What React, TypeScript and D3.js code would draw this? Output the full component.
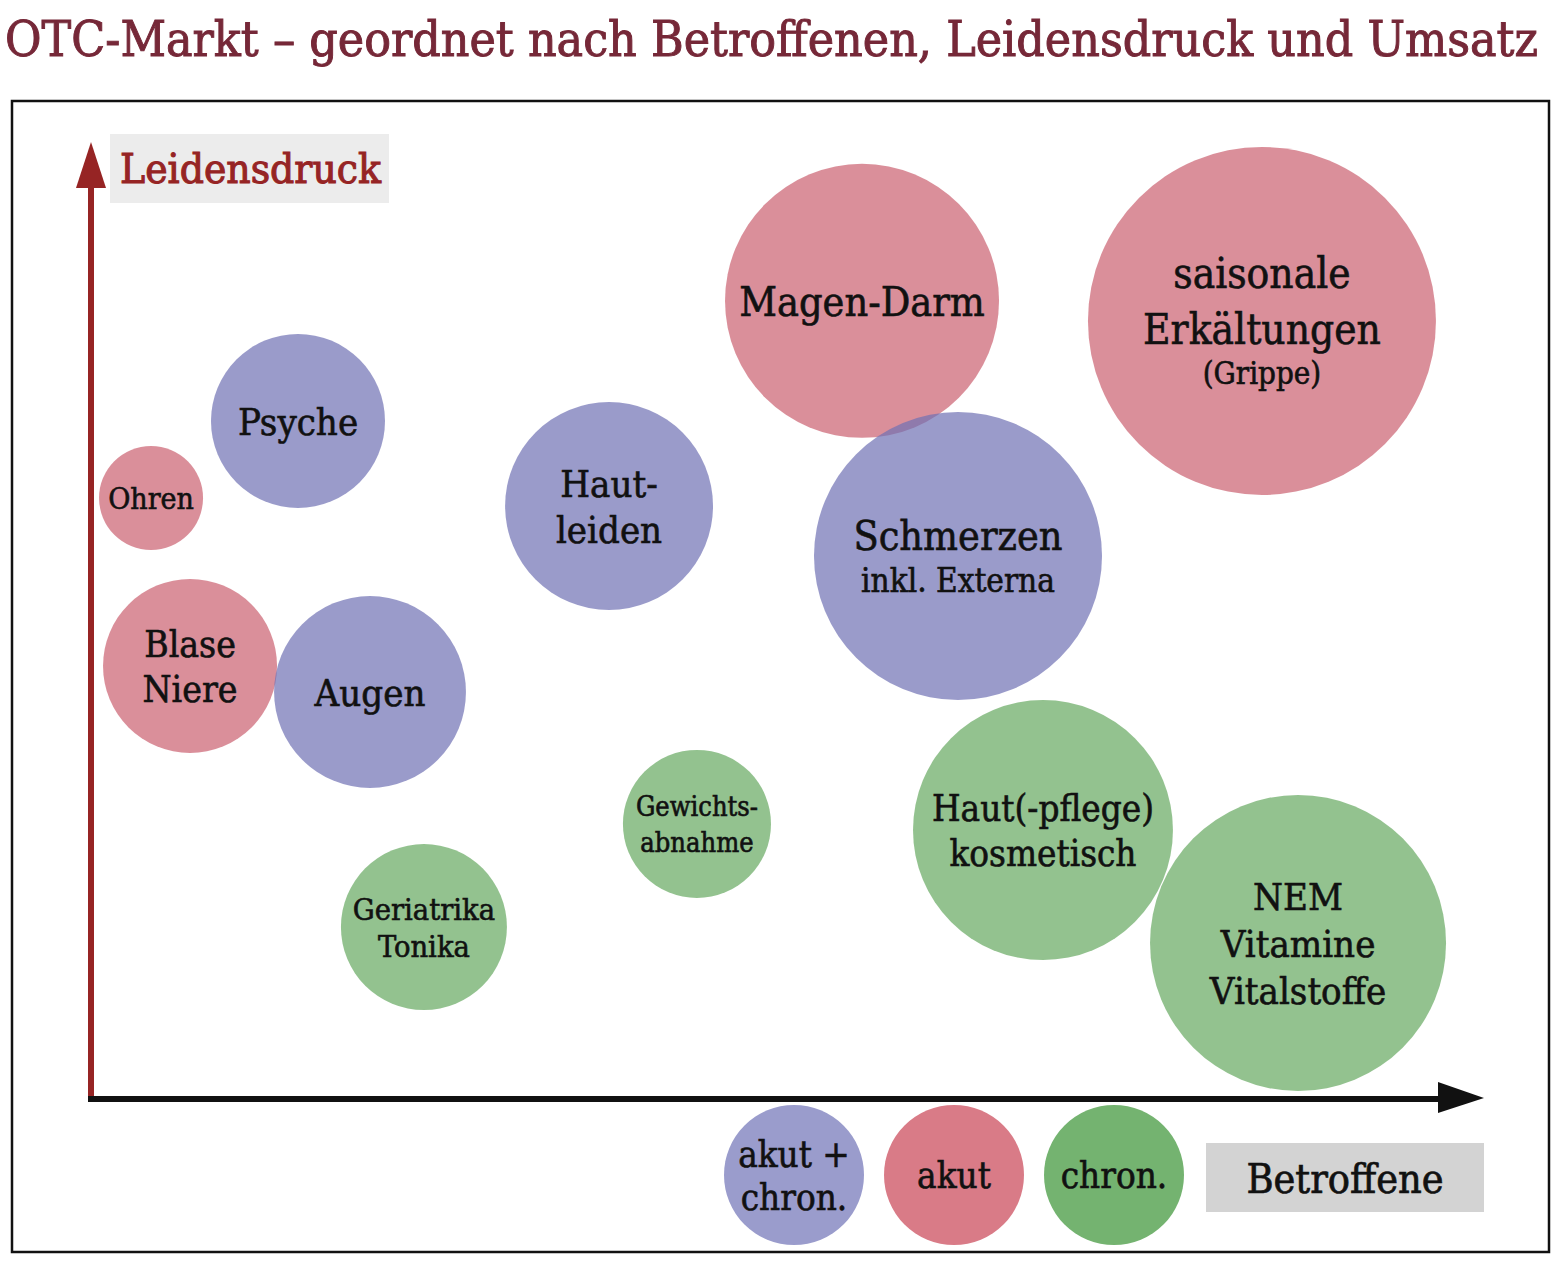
import React from "react";
import * as d3 from "d3";

const W = 1563;
const H = 1268;

// ---- data ----
const categories = [
  "Magen-Darm",
  "saisonale Erkältungen",
  "Psyche",
  "Ohren",
  "Hautleiden",
  "Schmerzen",
  "Blase Niere",
  "Augen",
  "Gewichtsabnahme",
  "Geriatrika Tonika",
  "Haut(-pflege) kosmetisch",
  "NEM Vitamine Vitalstoffe",
];
// Betroffene (x), Leidensdruck (y), Umsatz (bubble size) — relative units 0..100
const betroffene = [55.35, 84.06, 14.86, 4.31, 37.19, 62.24, 7.11, 20.03, 43.5, 23.9, 68.34, 86.65];
const leidensdruck = [83.4, 81.3, 70.85, 62.8, 61.96, 56.74, 45.25, 42.53, 28.74, 17.97, 28.1, 16.3];
const umsatz = [62, 100, 25, 8.93, 35.7, 68.5, 25, 30.4, 18.1, 22.75, 55.8, 72.35];
const typ = ["akut", "akut", "both", "akut", "both", "both", "akut", "both", "chron", "chron", "chron", "chron"];
const labelLines = [
  ["Magen-Darm"],
  ["saisonale", "Erkältungen", "(Grippe)"],
  ["Psyche"],
  ["Ohren"],
  ["Haut-", "leiden"],
  ["Schmerzen", "inkl. Externa"],
  ["Blase", "Niere"],
  ["Augen"],
  ["Gewichts-", "abnahme"],
  ["Geriatrika", "Tonika"],
  ["Haut(-pflege)", "kosmetisch"],
  ["NEM", "Vitamine", "Vitalstoffe"],
];
const legendKeys = ["both", "akut", "chron"];
const legendLabels = [["akut +", "chron."], ["akut"], ["chron."]];
const title = "OTC-Markt – geordnet nach Betroffenen, Leidensdruck und Umsatz";
const xAxisTitle = "Betroffene";
const yAxisTitle = "Leidensdruck";

// ---- styles ----
const labelSizes = [
  [41],
  [42, 42, 31],
  [38],
  [30],
  [38, 38],
  [41, 33],
  [37, 37],
  [38],
  [27, 27],
  [30.5, 30.5],
  [36.5, 36.5],
  [38, 38, 38],
];
const labelLineHeight = [1.22, 1.32, 1.22, 1.22, 1.22, 1.25, 1.22, 1.22, 1.33, 1.22, 1.25, 1.24];
const fillColor: Record<string, string> = { akut: "#ca5f6f", both: "#6f71b4", chron: "#65a85f" };
const legendColor: Record<string, string> = { both: "#9a9ccc", akut: "#d97b87", chron: "#74b370" };
const FONT = "'DejaVu Serif Condensed', 'DejaVu Serif', serif";

export default function App() {
  const x0 = 91, x1 = 1484, y0 = 1099, y1 = 142;
  const x = d3.scaleLinear().domain([0, 100]).range([x0, x1]);
  const y = d3.scaleLinear().domain([0, 100]).range([y0, y1]);
  const r = d3.scaleSqrt().domain([0, 100]).range([0, 174]);

  const legendX = d3.scalePoint<string>().domain(legendKeys).range([794, 1114]);

  const renderLines = (lines: string[], sizes: number[], cx: number, cy: number, key: string, lhf = 1.22) => {
    const caps = sizes.map((s) => s * 0.73);
    const baselines: number[] = [];
    let b = caps[0];
    baselines.push(b);
    for (let i = 1; i < lines.length; i++) {
      b += sizes[i] * lhf;
      baselines.push(b);
    }
    const total = baselines[baselines.length - 1];
    const top = cy - total / 2;
    return lines.map((t, i) => (
      <text
        key={key + i}
        x={cx}
        y={top + baselines[i]}
        textAnchor="middle"
        fontFamily={FONT}
        fontSize={sizes[i]}
        fill="#111"
        stroke="#111"
        strokeWidth={0.6}
      >
        {t}
      </text>
    ));
  };

  return (
    <svg width={W} height={H} style={{ position: "absolute", left: 0, top: 0, background: "#fff" }}>
      <rect x={0} y={0} width={W} height={H} fill="#fff" />
      <text x={5} y={56} fontFamily={FONT} fontSize={48} fill="#762838" stroke="#762838" strokeWidth={0.9} textLength={1533} lengthAdjust="spacingAndGlyphs">
        {title}
      </text>
      <rect x={12} y={101} width={1537} height={1151} fill="none" stroke="#111" strokeWidth={2.5} />

      {/* y axis title box */}
      <rect x={110} y={134} width={279} height={69} fill="#ececec" />
      <text x={120} y={183} fontFamily={FONT} fontSize={41} fill="#962424" stroke="#962424" strokeWidth={1} textLength={261} lengthAdjust="spacingAndGlyphs">
        {yAxisTitle}
      </text>

      {/* bubbles */}
      {categories.map((c, i) => (
        <circle key={c} cx={x(betroffene[i])} cy={y(leidensdruck[i])} r={r(umsatz[i])} fill={fillColor[typ[i]]} fillOpacity={0.7} />
      ))}
      {categories.map((c, i) => (
        <g key={"l" + c}>{renderLines(labelLines[i], labelSizes[i], x(betroffene[i]), y(leidensdruck[i]), c, labelLineHeight[i])}</g>
      ))}

      {/* axes */}
      <line x1={x0} y1={y0 + 1} x2={x0} y2={y1 + 40} stroke="#962424" strokeWidth={6} />
      <path d={`M${x0},${y1} L${x0 - 15},${y1 + 46} L${x0 + 15},${y1 + 46} Z`} fill="#962424" />
      <line x1={x0 - 3} y1={y0} x2={x1 - 44} y2={y0} stroke="#111" strokeWidth={6} />
      <path d={`M${x1},${y0 - 1} L${x1 - 46},${y0 - 17} L${x1 - 46},${y0 + 14} Z`} fill="#111" />

      {/* legend */}
      {legendKeys.map((k, i) => (
        <g key={k}>
          <circle cx={legendX(k)} cy={1175} r={70} fill={legendColor[k]} />
          {renderLines(legendLabels[i], legendLabels[i].map(() => 36.5), legendX(k)!, 1175, "lg" + k, 1.18)}
        </g>
      ))}
      <rect x={1206} y={1143} width={278} height={69} fill="#d3d3d3" />
      <text x={1345} y={1193} textAnchor="middle" fontFamily={FONT} fontSize={41} fill="#111" stroke="#111" strokeWidth={0.7}>
        {xAxisTitle}
      </text>
    </svg>
  );
}
